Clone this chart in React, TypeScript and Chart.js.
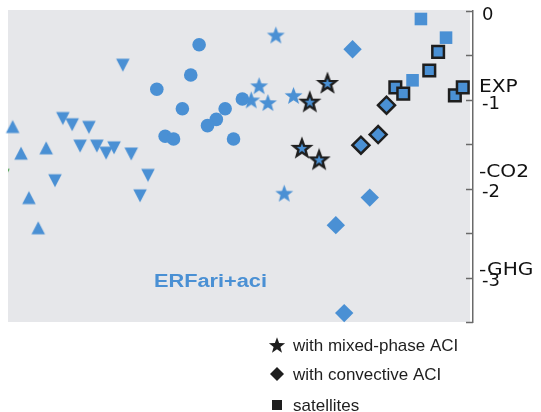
import React, { useEffect, useRef } from 'react';
import { Chart, registerables } from 'chart.js';

Chart.register(...registerables);

// ---- data (x: arbitrary ordering position 0-100 along a hidden axis, y: ERF value) ----
const upTriX = [1.0, 2.8, 8.2, 4.5, 6.5];
const upTriY = [-1.3, -1.6, -1.54, -2.1, -2.44];
const downTriX = [11.8, 13.8, 17.4, 15.5, 19.1, 21.1, 22.8, 26.5, 10.1, 30.1, 28.4, 24.7];
const downTriY = [-1.21, -1.28, -1.31, -1.52, -1.52, -1.6, -1.54, -1.61, -1.91, -1.85, -2.08, -0.61];
const circleX = [41.1, 39.3, 32.0, 37.5, 46.7, 44.8, 42.9, 33.8, 35.6, 48.5, 50.4];
const circleY = [-0.38, -0.72, -0.88, -1.1, -1.1, -1.22, -1.29, -1.41, -1.44, -1.44, -0.99];
const starX = [57.6, 54.0, 52.3, 55.9, 61.4, 59.4];
const starY = [-0.27, -0.84, -1.0, -1.03, -0.95, -2.05];
const mixedStarX = [68.7, 64.9, 63.2, 66.9];
const mixedStarY = [-0.81, -1.02, -1.54, -1.67];
const diamondX = [74.1, 77.8, 70.5, 72.3];
const diamondY = [-0.43, -2.1, -2.41, -3.4];
const convDiamondX = [75.9, 79.6, 81.4];
const convDiamondY = [-1.51, -1.39, -1.06];
const squareX = [88.8, 94.2, 87.0];
const squareY = [-0.09, -0.3, -0.78];
const satSquareX = [83.3, 85.0, 90.6, 92.5, 96.1, 97.8];
const satSquareY = [-0.86, -0.93, -0.67, -0.46, -0.95, -0.86];
const greenX = [-1.1];
const greenY = [-1.85];

const yMin = -3.5;
const yMax = 0;
const yStep = 0.5;

const refLabels = ['EXP', '-CO2', '-GHG'];
const refValues = [-0.86, -1.81, -2.92];
const legendLabels = ['with mixed-phase ACI', 'with convective ACI', 'satellites'];
const panelLabel = 'ERFari+aci';

// ---- styles ----
const BLUE = '#4a90d4';
const GREEN = '#3c9a3c';
const BG = '#e6e7ea';
const DARK = '#1e1e1e';
const AXIS = '#6a6a6a';

const pts = (xs: number[], ys: number[]) => xs.map((x, i) => ({ x, y: ys[i] }));

function starPath(ctx: CanvasRenderingContext2D, cx: number, cy: number, R: number) {
  ctx.beginPath();
  for (let i = 0; i < 10; i++) {
    const r = i % 2 === 0 ? R : R * 0.42;
    const a = -Math.PI / 2 + (i * Math.PI) / 5;
    const px = cx + Math.cos(a) * r;
    const py = cy + Math.sin(a) * r;
    if (i === 0) ctx.moveTo(px, py);
    else ctx.lineTo(px, py);
  }
  ctx.closePath();
}

function makeStar(R: number, fill: string, stroke?: string, lw = 0) {
  const size = Math.ceil(2 * R + lw + 4);
  const c = document.createElement('canvas');
  c.width = size;
  c.height = size;
  const ctx = c.getContext('2d')!;
  starPath(ctx, size / 2, size / 2 + 0.095 * R, R);
  ctx.fillStyle = fill;
  ctx.fill();
  if (stroke) {
    ctx.lineWidth = lw;
    ctx.strokeStyle = stroke;
    ctx.lineJoin = 'miter';
    ctx.stroke();
  }
  return c;
}

function makeTri(w: number, h: number, down: boolean, fill: string) {
  const size = Math.ceil(Math.max(w, h) + 4);
  const c = document.createElement('canvas');
  c.width = size;
  c.height = size;
  const ctx = c.getContext('2d')!;
  const cx = size / 2;
  const cy = size / 2;
  ctx.beginPath();
  if (down) {
    ctx.moveTo(cx - w / 2, cy - h / 2);
    ctx.lineTo(cx + w / 2, cy - h / 2);
    ctx.lineTo(cx, cy + h / 2);
  } else {
    ctx.moveTo(cx - w / 2, cy + h / 2);
    ctx.lineTo(cx + w / 2, cy + h / 2);
    ctx.lineTo(cx, cy - h / 2);
  }
  ctx.closePath();
  ctx.fillStyle = fill;
  ctx.fill();
  return c;
}

const decorPlugin = {
  id: 'decor',
  beforeDraw(chart: any) {
    const { ctx, chartArea: a } = chart;
    ctx.save();
    ctx.fillStyle = BG;
    ctx.fillRect(a.left, a.top - 1, a.right - 3 - a.left, a.bottom - a.top + 1);
    ctx.restore();
  },
  beforeDatasetsDraw(chart: any) {
    const { ctx, chartArea: a } = chart;
    // panel label
    ctx.save();
    ctx.font = 'bold 18px "Liberation Sans", Arial, sans-serif';
    ctx.fillStyle = BLUE;
    ctx.textBaseline = 'alphabetic';
    const w = ctx.measureText(panelLabel).width;
    ctx.translate(a.left + 146, a.bottom - 35);
    ctx.scale(113 / w, 1);
    ctx.fillText(panelLabel, 0, 0);
    ctx.restore();
  },
  afterDraw(chart: any) {
    const { ctx, chartArea: a } = chart;
    const ys = chart.scales.y;
    ctx.save();
    // inward ticks
    ctx.strokeStyle = AXIS;
    ctx.lineWidth = 1.5;
    ys.ticks.forEach((t: any) => {
      const py = Math.round(ys.getPixelForValue(t.value)) + 0.5;
      ctx.beginPath();
      ctx.moveTo(ys.left - 7, py);
      ctx.lineTo(ys.left, py);
      ctx.stroke();
    });
    // reference labels
    ctx.fillStyle = '#111';
    ctx.font = '18px "DejaVu Sans", sans-serif';
    ctx.textBaseline = 'middle';
    ctx.textAlign = 'left';
    refLabels.forEach((lab, i) => {
      const py = ys.getPixelForValue(refValues[i]);
      ctx.save();
      ctx.translate(ys.left + 6, py);
      ctx.scale(1.12, 1);
      ctx.fillText(lab, 0, 0);
      ctx.restore();
    });
    // legend
    const sx = a.left + 269;
    const tx = a.left + 285;
    const rows = [a.bottom + 23, a.bottom + 52, a.bottom + 83];
    ctx.fillStyle = DARK;
    ctx.font = '17px "Liberation Sans", Arial, sans-serif';
    ctx.textBaseline = 'middle';
    // star
    starPath(ctx, sx, rows[0] + 0.8, 8.5);
    ctx.fill();
    // diamond
    ctx.beginPath();
    ctx.moveTo(sx - 7, rows[1]);
    ctx.lineTo(sx, rows[1] - 7);
    ctx.lineTo(sx + 7, rows[1]);
    ctx.lineTo(sx, rows[1] + 7);
    ctx.closePath();
    ctx.fill();
    // square
    ctx.fillRect(sx - 5, rows[2] - 5, 10, 10);
    legendLabels.forEach((lab, i) => {
      ctx.fillText(lab, tx, rows[i] + 1);
    });
    ctx.restore();
  },
};

export default function App() {
  const ref = useRef<HTMLCanvasElement | null>(null);

  useEffect(() => {
    if (!ref.current) return;
    const starImg = makeStar(9.4, BLUE);
    const mixedStarImg = makeStar(8.8, BLUE, DARK, 2.4);
    const upImg = makeTri(13.5, 13, false, BLUE);
    const downImg = makeTri(13.5, 13, true, BLUE);
    const greenImg = makeTri(13.5, 13, true, GREEN);

    const chart = new Chart(ref.current, {
      type: 'scatter',
      data: {
        datasets: [
          {
            label: 'satellites (bordered)',
            data: pts(satSquareX, satSquareY),
            pointStyle: 'rect',
            pointRadius: 8.2,
            backgroundColor: BLUE,
            borderColor: DARK,
            borderWidth: 2.5,
            clip: false,
          },
          {
            label: 'with convective ACI',
            data: pts(convDiamondX, convDiamondY),
            pointStyle: 'rectRot',
            pointRadius: 8.5,
            backgroundColor: BLUE,
            borderColor: DARK,
            borderWidth: 2.5,
            clip: false,
          },
          {
            label: 'with mixed-phase ACI',
            data: pts(mixedStarX, mixedStarY),
            pointStyle: mixedStarImg,
            pointRadius: 9,
            clip: false,
          },
          {
            label: 'squares',
            data: pts(squareX, squareY),
            pointStyle: 'rect',
            pointRadius: 8.9,
            backgroundColor: BLUE,
            borderWidth: 0,
            clip: false,
          },
          {
            label: 'diamonds',
            data: pts(diamondX, diamondY),
            pointStyle: 'rectRot',
            pointRadius: 9.2,
            backgroundColor: BLUE,
            borderWidth: 0,
            clip: false,
          },
          {
            label: 'stars',
            data: pts(starX, starY),
            pointStyle: starImg,
            pointRadius: 9,
            clip: false,
          },
          {
            label: 'circles',
            data: pts(circleX, circleY),
            pointStyle: 'circle',
            pointRadius: 6.8,
            backgroundColor: BLUE,
            borderWidth: 0,
            clip: false,
          },
          {
            label: 'down triangles',
            data: pts(downTriX, downTriY),
            pointStyle: downImg,
            pointRadius: 7,
            clip: false,
          },
          {
            label: 'up triangles',
            data: pts(upTriX, upTriY),
            pointStyle: upImg,
            pointRadius: 7,
            clip: false,
          },
          {
            label: 'green',
            data: pts(greenX, greenY),
            pointStyle: greenImg,
            pointRadius: 7,
            clip: 0,
          },
        ],
      },
      options: {
        animation: false,
        responsive: false,
        events: [],
        layout: { autoPadding: false, padding: { left: 8, top: 11, right: 0, bottom: 90 } },
        plugins: {
          legend: { display: false },
          tooltip: { enabled: false },
          title: { display: false },
        },
        scales: {
          x: { type: 'linear', min: 0, max: 100, display: false },
          y: {
            type: 'linear',
            position: 'right',
            min: yMin,
            max: yMax,
            afterFit: (s: any) => {
              s.width = 68;
              s.paddingTop = 0;
              s.paddingBottom = 0;
              s.paddingLeft = 0;
              s.paddingRight = 0;
            },
            grid: { display: false },
            border: { display: true, color: AXIS, width: 1.5 },
            ticks: {
              stepSize: yStep,
              padding: 1,
              labelOffset: 4,
              color: '#111',
              font: { family: '"DejaVu Sans", sans-serif', size: 18 },
              callback: (v: any) => (Number.isInteger(Number(v)) ? String(v) : ''),
            },
          },
        },
      },
      plugins: [decorPlugin],
    } as any);

    return () => chart.destroy();
  }, []);

  return (
    <div style={{ position: 'absolute', left: 0, top: 0, width: 541, height: 412, background: '#fff' }}>
      <canvas ref={ref} width={541} height={412} style={{ display: 'block' }} />
    </div>
  );
}
